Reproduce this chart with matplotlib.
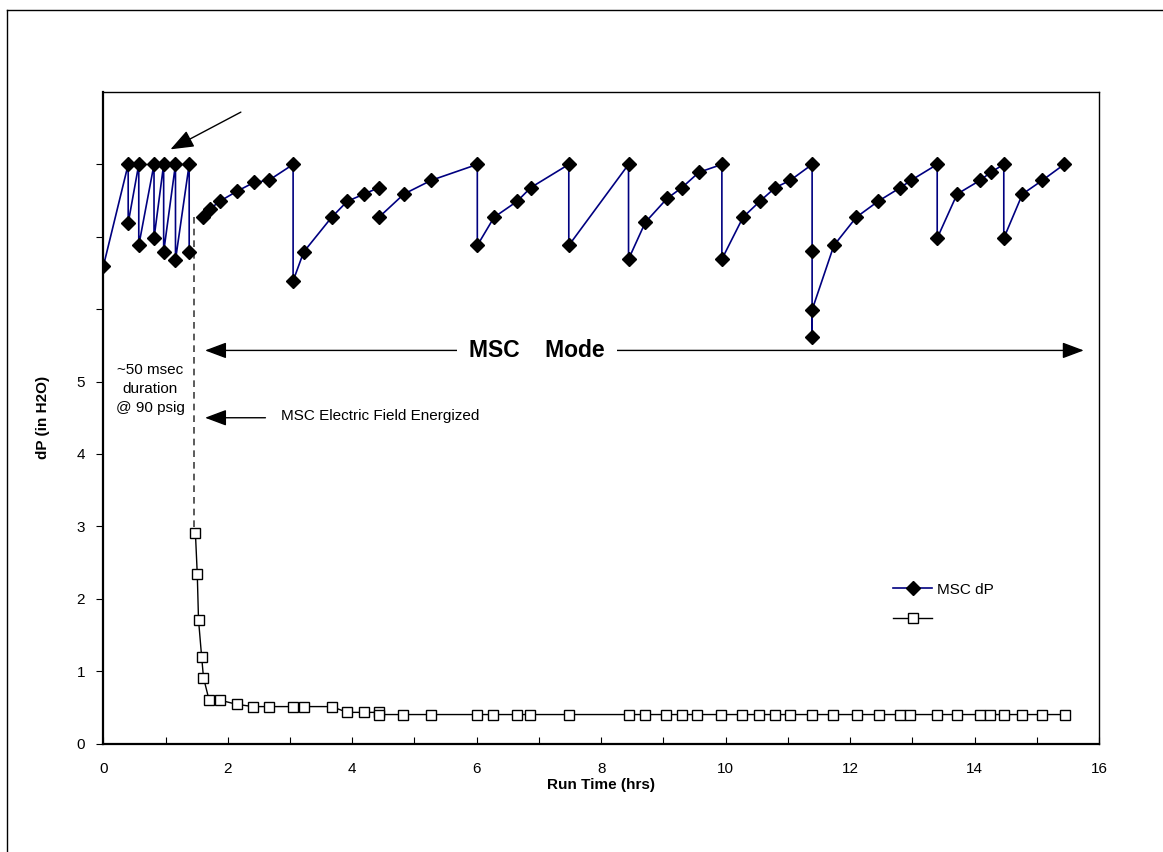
import numpy as np
import matplotlib
matplotlib.use("Agg")
import matplotlib.pyplot as plt
from matplotlib.lines import Line2D

matplotlib.rcParams["font.family"] = ["Liberation Sans", "DejaVu Sans"]
matplotlib.rcParams["font.size"] = 11

# MSC dP (diamonds) -- NaN marks breaks in the line
dp_x = [0.00, 0.40, 0.40, 0.57, 0.57, 0.815, 0.815, 0.97, 0.97, 1.16, 1.16, 1.38, 1.38, np.nan,
        1.60, 1.71, 1.87, 2.15, 2.42, 2.66, 3.05, 3.05, 3.22, 3.67, 3.92, 4.19, 4.43, np.nan,
        4.43, 4.83, 5.27, 6.01, 6.01, 6.28, 6.65, 6.87, 7.48, 7.48, 8.44, 8.44, 8.71, 9.06,
        9.30, 9.57, 9.94, 9.94, 10.28, 10.55, 10.80, 11.04, 11.39, 11.39, 11.39, 11.39, 11.74,
        12.10, 12.45, 12.81, 12.98, 13.40, 13.40, 13.72, 14.09, 14.26, 14.47, 14.47, 14.77,
        15.09, 15.44]
dp_y = [6.59, 8.0, 7.19, 8.0, 6.88, 8.0, 6.98, 8.0, 6.79, 8.0, 6.68, 8.0, 6.79, np.nan,
        7.28, 7.38, 7.49, 7.63, 7.75, 7.78, 8.0, 6.39, 6.79, 7.27, 7.49, 7.59, 7.68, np.nan,
        7.27, 7.59, 7.78, 8.0, 6.88, 7.27, 7.49, 7.68, 8.0, 6.88, 8.0, 6.69, 7.20, 7.53,
        7.68, 7.89, 8.0, 6.69, 7.27, 7.49, 7.68, 7.78, 8.0, 6.80, 5.61, 5.99, 6.88,
        7.27, 7.49, 7.68, 7.78, 8.0, 6.98, 7.59, 7.78, 7.89, 8.0, 6.98, 7.59,
        7.78, 8.0]

# second series (squares)
sq_x = [1.48, 1.51, 1.53, 1.58, 1.61, 1.70, 1.87, 2.15, 2.41, 2.66, 3.05, 3.22, 3.67, 3.92,
        4.19, 4.43, 4.43, 4.82, 5.27, 6.01, 6.27, 6.65, 6.86, 7.48, 8.44, 8.71, 9.05, 9.30,
        9.54, 9.93, 10.27, 10.54, 10.79, 11.04, 11.39, 11.73, 12.11, 12.46, 12.81, 12.97,
        13.40, 13.72, 14.09, 14.25, 14.47, 14.76, 15.09, 15.45]
sq_y = [2.91, 2.34, 1.71, 1.20, 0.91, 0.60, 0.60, 0.54, 0.51, 0.51, 0.51, 0.51, 0.51, 0.43,
        0.43, 0.43, 0.40, 0.40, 0.40, 0.40, 0.40, 0.40, 0.40, 0.40, 0.40, 0.40, 0.40, 0.40,
        0.40, 0.40, 0.40, 0.40, 0.40, 0.40, 0.40, 0.40, 0.40, 0.40, 0.40, 0.40,
        0.40, 0.40, 0.40, 0.40, 0.40, 0.40, 0.40, 0.40]

fig = plt.figure(figsize=(11.63, 8.52), dpi=100)
ax = fig.add_axes([103.3 / 1163, 1 - 743.5 / 852, (1099 - 103.3) / 1163, (743.5 - 92) / 852])

ax.plot(dp_x, dp_y, color="#000080", lw=1.2, marker="D", ms=7, mfc="black", mec="black",
        label="MSC dP", zorder=3)
ax.plot(sq_x, sq_y, color="black", lw=1.0, marker="s", ms=6.5, mfc="white", mec="black",
        mew=1.0, label=" ", zorder=3)

ax.set_xlim(0, 16)
ax.set_ylim(0, 9)
ax.set_xticks(np.arange(0, 17, 2))
ax.set_xticks(np.arange(0, 17, 1), minor=True)
ax.set_yticks(np.arange(0, 9, 1))
ax.set_yticklabels(["0", "1", "2", "3", "4", "5", "", "", ""])
ax.tick_params(axis="x", which="both", direction="in", length=5, width=0.8, labelsize=11, pad=13)
ax.tick_params(axis="y", direction="out", length=5, width=0.8, labelsize=11, pad=8)
for s in ax.spines.values():
    s.set_linewidth(1.0)
ax.spines["left"].set_linewidth(1.6)
ax.spines["bottom"].set_linewidth(1.6)

ax.set_xlabel("Run Time (hrs)", fontweight="bold", fontsize=11, labelpad=2)
ax.set_ylabel("dP (in H2O)", fontweight="bold", fontsize=11, labelpad=19)

# dashed marker of energizing
ax.plot([1.46, 1.46], [7.28, 2.95], color="#404040", lw=1.2, ls=(0, (4, 3)), zorder=2)

# annotations
ax.annotate("", xy=(1.04, 8.19), xytext=(2.25, 8.74),
            arrowprops=dict(arrowstyle="-|>,head_length=1.3,head_width=0.5", color="black", lw=1.0))
ax.annotate("", xy=(1.59, 5.43), xytext=(15.8, 5.43),
            arrowprops=dict(arrowstyle="<|-|>,head_length=1.2,head_width=0.45", color="black", lw=1.0))
ax.text(6.97, 5.43, "MSC    Mode", fontsize=16.5, fontweight="bold", ha="center", va="center",
        bbox=dict(facecolor="white", edgecolor="none", pad=9), zorder=4)
ax.annotate("", xy=(1.59, 4.50), xytext=(2.65, 4.50),
            arrowprops=dict(arrowstyle="-|>,head_length=1.2,head_width=0.45", color="black", lw=1.0))
ax.text(2.86, 4.53, "MSC Electric Field Energized", fontsize=11, ha="left", va="center")
ax.text(0.75, 4.90, "~50 msec\nduration\n@ 90 psig", fontsize=11, ha="center", va="center",
        linespacing=1.45)

ax.legend(loc="upper left", bbox_to_anchor=(0.779, 0.268), frameon=False, fontsize=11,
          handlelength=2.6, handletextpad=0.3, labelspacing=1.05)

# outer chart frame
fig.add_artist(Line2D([7 / 1163, 7 / 1163], [0, 1 - 10 / 852], color="black", lw=1.0,
                      transform=fig.transFigure))
fig.add_artist(Line2D([7 / 1163, 1], [1 - 10 / 852, 1 - 10 / 852], color="black", lw=1.0,
                      transform=fig.transFigure))

fig.savefig("out.png", dpi=100)
